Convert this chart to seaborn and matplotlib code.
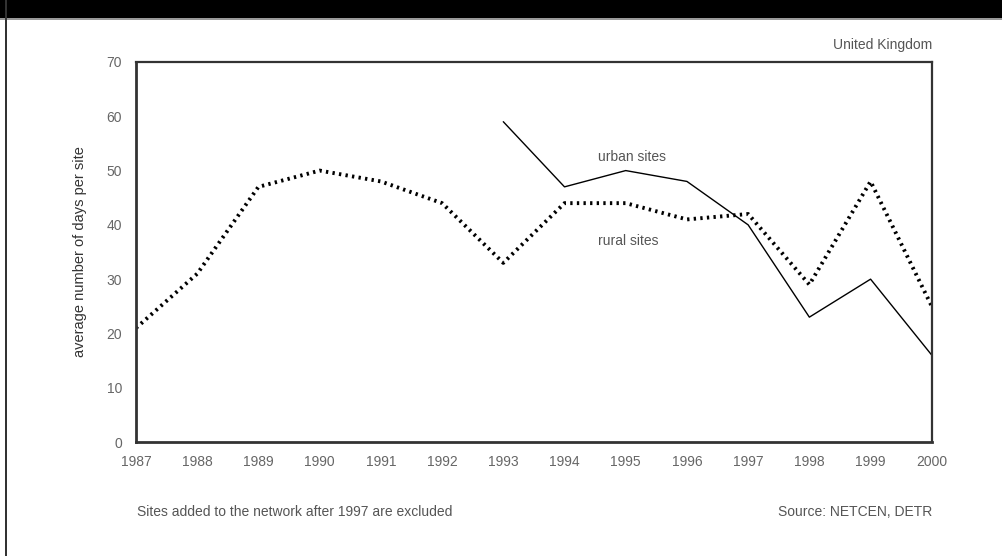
import matplotlib
matplotlib.use("Agg")
import matplotlib.pyplot as plt
import seaborn as sns
import pandas as pd
from matplotlib.patches import Rectangle

years_rural = [1987, 1988, 1989, 1990, 1991, 1992, 1993, 1994, 1995, 1996, 1997, 1998, 1999, 2000]
rural = [21, 31, 47, 50, 48, 44, 33, 44, 44, 41, 42, 29, 48, 25]
years_urban = [1993, 1994, 1995, 1996, 1997, 1998, 1999, 2000]
urban = [59, 47, 50, 48, 40, 23, 30, 16]
x_ticks = list(range(1987, 2001))
y_ticks = list(range(0, 71, 10))

sns.set_style("white")
plt.rcParams['font.family'] = ['Liberation Sans Narrow', 'Liberation Sans', 'DejaVu Sans']

fig = plt.figure(figsize=(10.03, 5.56), dpi=100)
ax = fig.add_axes([0.1356, 0.205, 0.929 - 0.1356, 0.8885 - 0.205])

df_r = pd.DataFrame({"year": years_rural, "value": rural})
df_u = pd.DataFrame({"year": years_urban, "value": urban})
sns.lineplot(data=df_r, x="year", y="value", ax=ax, color="black", linewidth=2.8,
             linestyle=(0, (0.6, 1.1)), dash_capstyle="butt")
sns.lineplot(data=df_u, x="year", y="value", ax=ax, color="black", linewidth=1.0)

ax.set_xlim(1987, 2000)
ax.set_ylim(0, 70)
ax.set_xticks(x_ticks)
ax.set_yticks(y_ticks)
ax.set_xticklabels([str(t) for t in x_ticks])
ax.set_xlabel("")
ax.set_ylabel("average number of days per site", fontsize=10.5, color="#333333", labelpad=14)
ax.tick_params(axis="x", direction="inout", length=7, width=1.5, color="#222222",
               labelsize=10, labelcolor="#666666", pad=6)
ax.tick_params(axis="y", direction="out", length=5, width=1.5, color="#222222",
               labelsize=10, labelcolor="#666666", pad=5)
for s in ax.spines.values():
    s.set_color("#333333")
    s.set_linewidth(1.6)
ax.spines["left"].set_linewidth(2.0)
ax.spines["bottom"].set_linewidth(2.0)

ax.text(1994.55, 52.5, "urban sites", fontsize=10, color="#555555", ha="left", va="center")
ax.text(1994.55, 37.0, "rural sites", fontsize=10, color="#555555", ha="left", va="center")

fig.text(0.929, 1 - 45 / 556, "United Kingdom", fontsize=10, color="#555555", ha="right", va="center")
fig.text(137 / 1003, 1 - 512 / 556, "Sites added to the network after 1997 are excluded",
         fontsize=10, color="#555555", ha="left", va="center")
fig.text(0.929, 1 - 512 / 556, "Source: NETCEN, DETR", fontsize=10, color="#555555",
         ha="right", va="center")

fig.patches.append(Rectangle((0, 1 - 18 / 556), 1, 18 / 556, transform=fig.transFigure,
                             facecolor="black", edgecolor="none", zorder=5))
fig.patches.append(Rectangle((0, 1 - 20 / 556), 1, 2 / 556, transform=fig.transFigure,
                             facecolor="#999999", edgecolor="none", zorder=5))
fig.patches.append(Rectangle((5 / 1003, 0), 2 / 1003, 1, transform=fig.transFigure,
                             facecolor="#333333", edgecolor="none", zorder=5))

fig.savefig("out.png", dpi=100, facecolor="white")
